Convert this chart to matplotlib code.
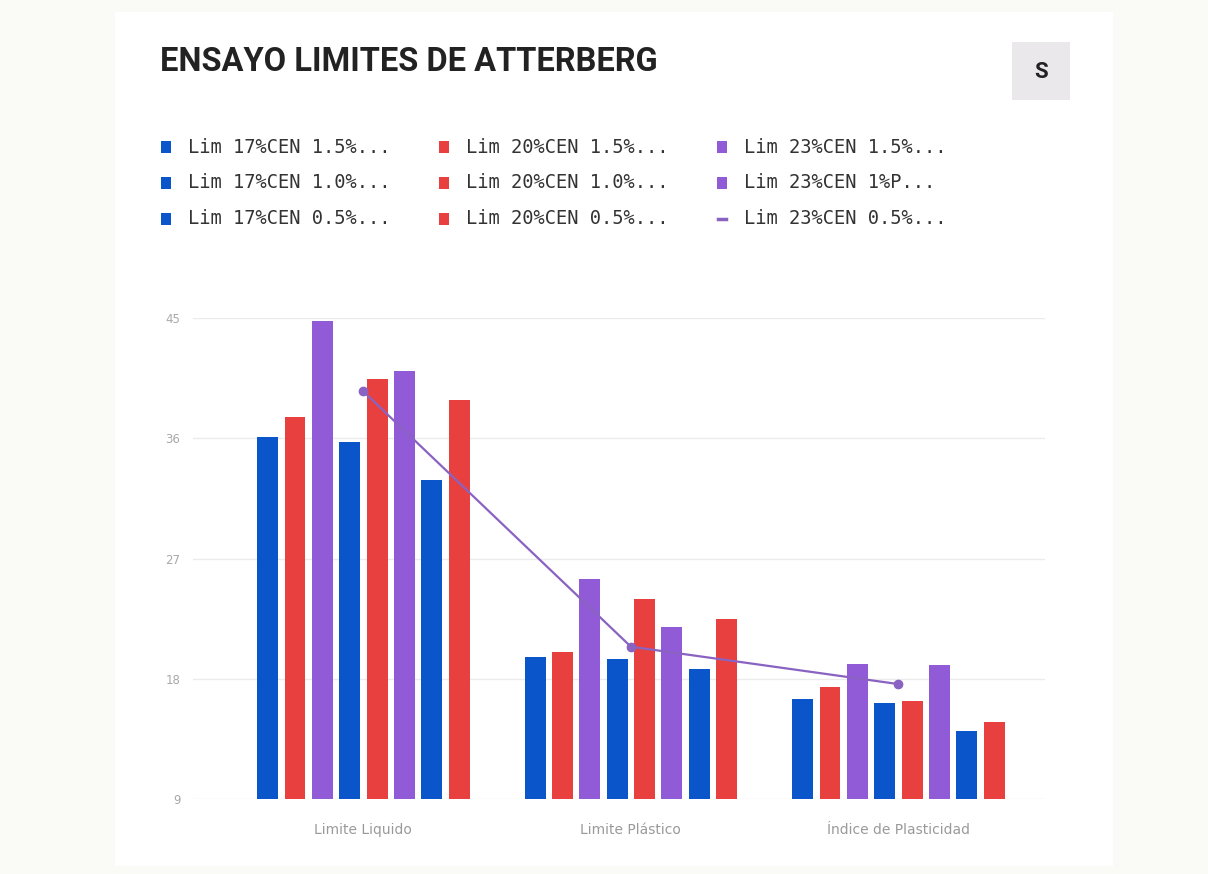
import numpy as np
import matplotlib.pyplot as plt
from matplotlib.patches import Rectangle
from matplotlib.lines import Line2D

categorias = ['Limite Liquido', 'Limite Plástico', 'Índice de Plasticidad']

# valores por serie (LL, LP, IP)
lim17_15 = [36.1, 19.6, 16.5]
lim20_15 = [37.6, 20.0, 17.4]
lim23_15 = [44.8, 25.5, 19.1]
lim17_10 = [35.7, 19.5, 16.2]
lim20_10 = [40.4, 24.0, 16.3]
lim23_10 = [41.0, 21.9, 19.0]
lim17_05 = [32.9, 18.7, 14.1]
lim20_05 = [38.9, 22.5, 14.8]
lim23_05 = [39.5, 20.4, 17.6]  # se dibuja como linea

nombres = ['Lim 17%CEN 1.5%...', 'Lim 17%CEN 1.0%...', 'Lim 17%CEN 0.5%...',
           'Lim 20%CEN 1.5%...', 'Lim 20%CEN 1.0%...', 'Lim 20%CEN 0.5%...',
           'Lim 23%CEN 1.5%...', 'Lim 23%CEN 1%P...', 'Lim 23%CEN 0.5%...']

yticks = [9, 18, 27, 36, 45]

azul = '#0a55c9'
rojo = '#e8403f'
morado = '#915ad6'
linea = '#8a62c2'

barras = [(lim17_15, azul), (lim20_15, rojo), (lim23_15, morado),
          (lim17_10, azul), (lim20_10, rojo), (lim23_10, morado),
          (lim17_05, azul), (lim20_05, rojo)]

W, H = 1208, 874
fig = plt.figure(figsize=(W / 100, H / 100), dpi=100)
fig.patch.set_facecolor('#fafaf6')

# tarjeta blanca
fig.patches.append(Rectangle((115 / W, 1 - 866 / H), (1113 - 115) / W, (866 - 12) / H,
                             transform=fig.transFigure, facecolor='white',
                             edgecolor='none', zorder=-5))

ax = fig.add_axes([193 / W, 1 - 799 / H, (1045 - 193) / W, (799 - 318) / H])
ax.set_facecolor('none')
ax.set_zorder(2)

x = np.arange(len(categorias))
paso = 0.1022
ancho = 0.078
for i, (vals, col) in enumerate(barras):
    ax.bar(x + (i - 3.5) * paso, np.array(vals) - yticks[0], bottom=yticks[0],
           width=ancho, color=col, zorder=2)

ax.plot(x, lim23_05, color=linea, lw=1.6, marker='o', markersize=6, zorder=3)

ax.set_xlim(-0.637, 2.548)
ax.set_ylim(yticks[0], yticks[-1])
ax.set_yticks(yticks)
ax.set_yticklabels([str(t) for t in yticks], fontsize=8.5, color='#a8a8a8')
ax.set_xticks(x)
ax.set_xticklabels(categorias, fontsize=10, color='#9a9a9a')
ax.tick_params(length=0)
ax.tick_params(axis='y', pad=9)
ax.tick_params(axis='x', pad=17)
ax.grid(axis='y', color='#ebebeb', lw=1, zorder=0)
ax.set_axisbelow(True)
for s in ax.spines.values():
    s.set_visible(False)

# titulo y boton
fig.text(160 / W, 1 - 62 / H, 'ENSAYO LIMITES DE ATTERBERG', fontsize=23.5,
         fontweight='bold', family='Roboto', color='#222222', va='center', ha='left')
fig.patches.append(Rectangle((1012 / W, 1 - 100 / H), 58 / W, 58 / H,
                             transform=fig.transFigure, facecolor='#ebe8ec',
                             edgecolor='none', zorder=1))
fig.text(1041 / W, 1 - 72 / H, 'S', fontsize=16, fontweight='bold', family='Roboto',
         color='#222222', ha='center', va='center')

# leyenda (3 columnas)
col_x = [166, 444, 722]
fila_y = [147, 183, 219]
colores_ley = [azul, azul, azul, rojo, rojo, rojo, morado, morado, linea]
for k, (nom, col) in enumerate(zip(nombres, colores_ley)):
    cx = col_x[k // 3]
    cy = fila_y[k % 3]
    if k == 8:
        fig.lines.append(Line2D([(cx - 4) / W, (cx + 4) / W], [1 - cy / H, 1 - cy / H],
                                transform=fig.transFigure, color=col, lw=2.5))
    else:
        fig.patches.append(Rectangle(((cx - 5) / W, 1 - (cy + 6) / H), 10 / W, 12 / H,
                                     transform=fig.transFigure, facecolor=col,
                                     edgecolor='none'))
    fig.text((cx + 22) / W, 1 - cy / H, nom, fontsize=13.5, family='DejaVu Sans Mono',
             color='#333333', va='center', ha='left')

fig.savefig('out.png', dpi=100, facecolor=fig.get_facecolor())
